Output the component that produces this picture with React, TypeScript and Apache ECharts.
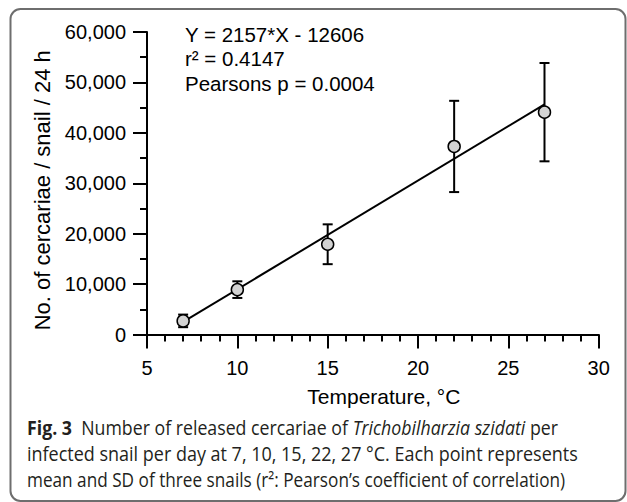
import React, { useEffect, useRef } from "react";
import * as echarts from "echarts";

const temps = [7, 10, 15, 22, 27];
const meanCercariae = [2700, 8900, 17900, 37300, 44100];
const sdCercariae = [1250, 1650, 3950, 9050, 9750];
const fitSlope = 2157;
const fitIntercept = -12606;
const fitRange = [7, 27];
const statLines = ["Y = 2157*X - 12606", "r² = 0.4147", "Pearsons p = 0.0004"];
const captionLines = [
  "{b|Fig. 3}  Number of released cercariae of {i|Trichobilharzia szidati} per",
  "infected snail per day at 7, 10, 15, 22, 27 °C. Each point represents",
  "mean and SD of three snails (r²: Pearson’s coefficient of correlation)",
];

const FONT = "'Liberation Sans', Arial, sans-serif";
const CAP_FONT = "'Open Sans', 'Noto Sans', sans-serif";

export default function App() {
  const ref = useRef<HTMLDivElement>(null);
  useEffect(() => {
    if (!ref.current) return;
    const chart = echarts.init(ref.current, undefined, { renderer: "svg" });
    const errData = temps.map((t, i) => [t, meanCercariae[i], sdCercariae[i]]);
    const pts = temps.map((t, i) => [t, meanCercariae[i]]);
    const fit = fitRange.map((x) => [x, fitSlope * x + fitIntercept]);
    const capScale = [0.91, 0.922, 0.882];
    const option: any = {
      animation: false,
      backgroundColor: "#fff",
      grid: { left: 147, top: 32, right: 28.3, bottom: 167.5 },
      xAxis: {
        type: "value",
        min: 5,
        max: 30,
        interval: 5,
        name: "Temperature, °C",
        nameLocation: "middle",
        nameGap: 51,
        nameTextStyle: { fontSize: 21, fontFamily: FONT, color: "#000", padding: [0, 0, 0, 22] },
        axisLine: { show: true, onZero: false, lineStyle: { color: "#000", width: 2 } },
        axisTick: { show: true, length: 14, lineStyle: { color: "#000", width: 2 } },
        minorTick: { show: true, splitNumber: 5, length: 7, lineStyle: { color: "#000", width: 2 } },
        axisLabel: { fontSize: 20, fontFamily: FONT, color: "#000", margin: 23 },
        splitLine: { show: false },
        minorSplitLine: { show: false },
      },
      yAxis: {
        type: "value",
        min: 0,
        max: 60000,
        interval: 10000,
        name: "No. of cercariae / snail / 24 h",
        nameLocation: "middle",
        nameGap: 89,
        nameTextStyle: { fontSize: 22, fontFamily: FONT, color: "#000", padding: [0, 14, 0, 0] },
        axisLine: { show: true, lineStyle: { color: "#000", width: 2 } },
        axisTick: { show: true, length: 14, lineStyle: { color: "#000", width: 2 } },
        minorTick: { show: true, splitNumber: 2, length: 7, lineStyle: { color: "#000", width: 2 } },
        axisLabel: {
          fontSize: 20,
          fontFamily: FONT,
          color: "#000",
          margin: 21,
          formatter: (v: number) => v.toLocaleString("en-US"),
        },
        splitLine: { show: false },
        minorSplitLine: { show: false },
      },
      series: [
        {
          type: "custom",
          z: 2,
          data: errData,
          renderItem: (params: any, api: any) => {
            const x = api.value(0);
            const m = api.value(1);
            const s = api.value(2);
            const top = api.coord([x, m + s]);
            const bot = api.coord([x, m - s]);
            const cap = 5;
            const st = { stroke: "#000", lineWidth: 2 };
            return {
              type: "group",
              children: [
                { type: "line", shape: { x1: top[0], y1: top[1], x2: bot[0], y2: bot[1] }, style: st },
                { type: "line", shape: { x1: top[0] - cap, y1: top[1], x2: top[0] + cap, y2: top[1] }, style: st },
                { type: "line", shape: { x1: bot[0] - cap, y1: bot[1], x2: bot[0] + cap, y2: bot[1] }, style: st },
              ],
            };
          },
        },
        {
          type: "line",
          z: 3,
          data: fit,
          symbol: "none",
          lineStyle: { color: "#000", width: 2 },
        },
        {
          type: "scatter",
          z: 4,
          data: pts,
          symbol: "circle",
          symbolSize: 12,
          itemStyle: { color: "#d3d3d3", borderColor: "#000", borderWidth: 1.5, opacity: 1 },
        },
      ],
      graphic: [
        {
          type: "rect",
          shape: { x: 10.5, y: 9, width: 615, height: 492, r: 10 },
          style: { fill: "none", stroke: "#6e6e6e", lineWidth: 2 },
          z: -1,
        },
        ...statLines.map((t, i) => ({
          type: "text",
          x: 185,
          y: 34 + i * 24.7,
          style: { text: t, fontSize: 20.5, fontFamily: FONT, fill: "#000", verticalAlign: "middle" },
        })),
        ...captionLines.map((t, i) => ({
          type: "text",
          x: 27,
          y: 427 + i * 26,
          scaleX: capScale[i],
          style: {
            text: t,
            fontSize: 19.5,
            fontFamily: CAP_FONT,
            fill: "#231f20",
            verticalAlign: "middle",
            rich: {
              b: { fontSize: 19.5, fontFamily: CAP_FONT, fontWeight: "bold", fill: "#231f20" },
              i: { fontSize: 19.5, fontFamily: CAP_FONT, fontStyle: "italic", fill: "#231f20" },
            },
          },
        })),
      ],
    };
    chart.setOption(option);
    return () => chart.dispose();
  }, []);
  return (
    <div
      ref={ref}
      style={{ position: "fixed", left: 0, top: 0, width: 627, height: 502 }}
    />
  );
}
